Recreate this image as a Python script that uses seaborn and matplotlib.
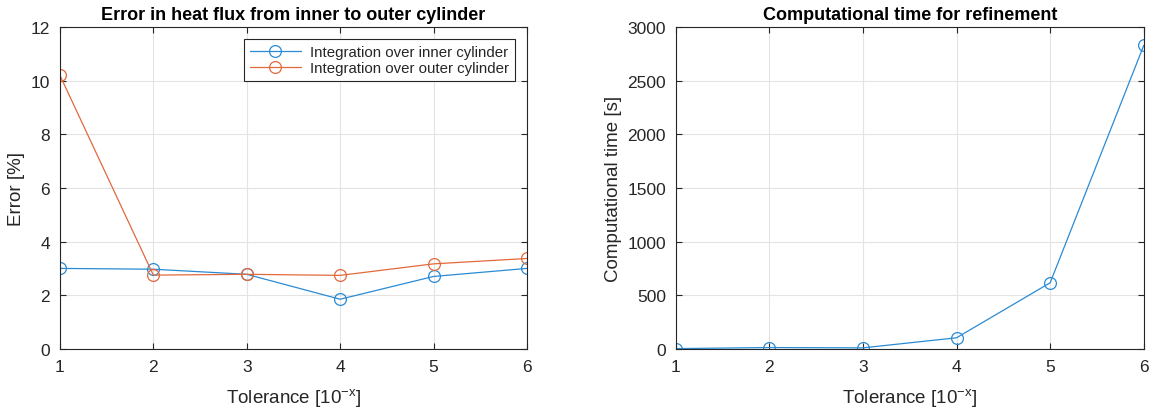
import numpy as np
import pandas as pd
import matplotlib
matplotlib.use("Agg")
import matplotlib.pyplot as plt
from matplotlib.lines import Line2D
import seaborn as sns

# Tolerance exponents (10^-x)
tolerance = [1, 2, 3, 4, 5, 6]
# Relative error of the heat flux [%]
error_inner = [3.0, 2.97, 2.78, 1.85, 2.70, 3.0]
error_outer = [10.2, 2.75, 2.78, 2.74, 3.17, 3.37]
# Computational time of the refinement [s]
comp_time = [2, 12, 9, 103, 616, 2830]

series_names = ["Integration over inner cylinder", "Integration over outer cylinder"]
blue = "#2a8bd4"
orange = "#e2693c"
ink = "#262626"

sns.set_theme(style="white")
plt.rcParams["font.family"] = ["Liberation Sans", "DejaVu Sans"]

fig = plt.figure(figsize=(11.53, 4.14), dpi=100)
ax1 = fig.add_axes([0.052, 0.155, 0.405, 0.777])
ax2 = fig.add_axes([0.586, 0.155, 0.406, 0.777])

err_df = pd.DataFrame({
    "tol": tolerance * 2,
    "err": error_inner + error_outer,
    "series": [series_names[0]] * len(tolerance) + [series_names[1]] * len(tolerance),
})
time_df = pd.DataFrame({"tol": tolerance, "time": comp_time})

line_kw = dict(marker="o", markersize=8.5, markerfacecolor="none",
               markeredgewidth=0.9, linewidth=0.9)

sns.lineplot(data=err_df, x="tol", y="err", hue="series",
             palette=[blue, orange], ax=ax1, legend=False, **line_kw)
for ln, c in zip(ax1.lines, [blue, orange]):
    ln.set_markeredgecolor(c)
sns.lineplot(data=time_df, x="tol", y="time", color=blue, ax=ax2, **line_kw)
ax2.lines[0].set_markeredgecolor(blue)


def style_axes(ax):
    ax.set_xlim(1, 6)
    ax.set_xticks(tolerance)
    ax.grid(True, color="#e3e3e3", linewidth=0.8)
    for s in ax.spines.values():
        s.set_visible(True)
        s.set_color(ink)
        s.set_linewidth(0.8)
    ax.tick_params(direction="in", length=4, width=0.8, colors=ink,
                   labelsize=12.5, top=True, right=True, bottom=True, left=True,
                   labeltop=False, labelright=False, pad=7)
    ax.set_xlabel("Tolerance [10$^{\\mathregular{-x}}$]", fontsize=13.5,
                  color=ink, labelpad=9)


style_axes(ax1)
ax1.set_ylim(0, 12)
ax1.set_yticks(np.arange(0, 13, 2))
ax1.set_ylabel("Error [%]", fontsize=13.5, color=ink)
ax1.set_title("Error in heat flux from inner to outer cylinder",
              fontsize=13, fontweight="bold", color="black", pad=6)

handles = [Line2D([], [], color=c, marker="o", markersize=8.5, markerfacecolor="none",
                  markeredgecolor=c, markeredgewidth=0.9, linewidth=0.9)
           for c in (blue, orange)]
leg = ax1.legend(handles, series_names, loc="upper right", fontsize=10.8,
                 frameon=True, fancybox=False, edgecolor=ink, borderpad=0.4,
                 handlelength=3.4, handletextpad=0.6, labelspacing=0.15,
                 borderaxespad=0.8, framealpha=1)
leg.get_frame().set_linewidth(0.8)

style_axes(ax2)
ax2.set_ylim(0, 3000)
ax2.set_yticks(np.arange(0, 3001, 500))
ax2.set_ylabel("Computational time [s]", fontsize=13.5, color=ink)
ax2.set_title("Computational time for refinement",
              fontsize=13, fontweight="bold", color="black", pad=6)

fig.savefig("out.png", dpi=100, facecolor="white")
